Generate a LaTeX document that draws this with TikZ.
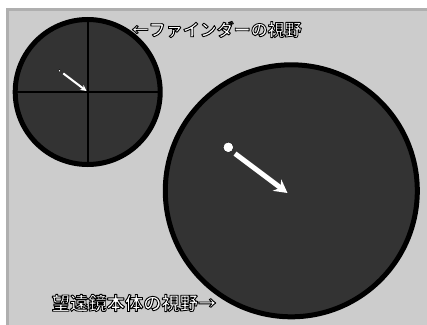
\documentclass[tikz,border=0pt]{standalone}
\usepackage{fontspec}
\newfontfamily\jpfont{Noto Sans CJK JP}[RawFeature=+fwid, BoldFont=* Bold]
\usetikzlibrary{arrows.meta}
\definecolor{viewdark}{HTML}{333333}
\definecolor{panelgray}{HTML}{CCCCCC}
\definecolor{paneledge}{HTML}{AFAFAF}

% 白い文字に黒い縁取り
\newcommand{\edgedtext}[1]{\special{pdf:literal direct 2 Tr 0.9 w 0 G 1 j}#1\special{pdf:literal direct 0 Tr}}

\tikzset{
  fieldview/.style={draw=black, line width=5pt, fill=viewdark},
  starmark/.style={fill=white},
  motion/.style={white, line cap=butt},
  viewlabel/.style={text=white, font=\jpfont\bfseries\fontsize{#1}{#1}\selectfont, inner sep=0pt, anchor=west}
}

\begin{document}
\begin{tikzpicture}[x=1pt, y=-1pt]
    \useasboundingbox (0,0) rectangle (427,324);
    \clip (0,0) rectangle (427,324);

    % 背景
    \draw[paneledge, line width=3pt, fill=panelgray] (7.5,9.5) rectangle (440,340);

    % ファインダーの視野
    \draw[fieldview] (87.7,92) circle (72.5);
    \draw[black, line width=1.7pt] (87.7,19.5) -- (87.7,164.5);
    \draw[black, line width=1.7pt] (15.2,92) -- (160.2,92);
    \filldraw[starmark] (59.5,70.7) circle (1.4);
    \draw[motion, line width=2pt, -{Stealth[length=6pt, width=6pt]}] (63.3,73.4) -- (86.5,91);

    % 望遠鏡本体の視野
    \draw[fieldview] (291.3,190.8) circle (126);
    \filldraw[starmark] (228.3,147.3) circle (5.2);
    \draw[motion, line width=5pt, -{Stealth[length=13pt, width=14pt]}] (235,153.6) -- (287.5,193);

    % 説明
    \node[viewlabel=17pt] (finderlabel) at (131.5,29.5) {\edgedtext{←ファインダーの視野}};
    \node[viewlabel=18.3pt] (mainlabel) at (51.5,303) {\edgedtext{望遠鏡本体の視野→}};
\end{tikzpicture}
\end{document}
